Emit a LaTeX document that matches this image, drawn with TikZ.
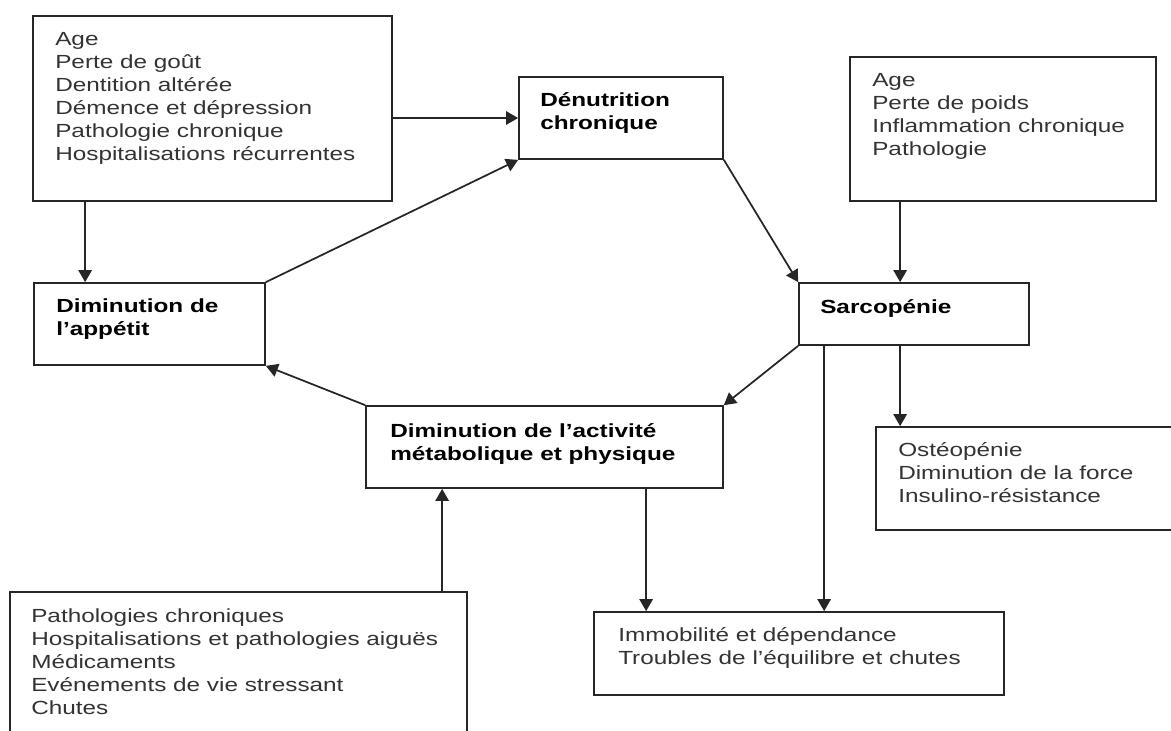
\documentclass[tikz,border=0pt]{standalone}
\usepackage{fontspec}
\setmainfont{Liberation Sans}[FakeStretch=1.28]
\usetikzlibrary{arrows.meta,fit}
\tikzset{
  box/.style={draw=black!85, line width=1.3pt, inner sep=0pt},
  listtxt/.style={anchor=north west, inner sep=0pt, align=left, text=black!80,
    font=\fontsize{14.25pt}{17.25pt}\selectfont},
  headtxt/.style={listtxt, text=black, font=\fontsize{14.25pt}{17.25pt}\selectfont\bfseries},
  arr/.style={draw=black!85, line width=1.3pt, -{Triangle[length=9pt,width=10pt]}}
}
\begin{document}
\begin{tikzpicture}[x=0.75pt,y=-0.75pt]
    \fill[white] (0,0) rectangle (1171,731);
    \useasboundingbox (0,0) rectangle (1171,731);
    % boxes
    \node[box, fit={(33,16) (392,201)}] (causes) {};
    \node[box, fit={(519,77) (723,159)}] (denut) {};
    \node[box, fit={(850,57) (1156,201)}] (sfact) {};
    \node[box, fit={(34,283) (265,365)}] (appetit) {};
    \node[box, fit={(799,283) (1029,345)}] (sarco) {};
    \node[box, fit={(366,406) (723,488)}] (activite) {};
    \node[box, fit={(876,427) (1176,530)}] (osteo) {};
    \node[box, fit={(10,592) (467,745)}] (afact) {};
    \node[box, fit={(594,612) (1004,695)}] (immob) {};
    % texts
    \node[listtxt] (causestxt) at (55,29) {\strut Age\\Perte de goût\\Dentition altérée\\Démence et dépression\\Pathologie chronique\\Hospitalisations récurrentes};
    \node[headtxt] (denuttxt) at (540,90) {\strut Dénutrition\\chronique};
    \node[listtxt] (sfacttxt) at (872,70) {\strut Age\\Perte de poids\\Inflammation chronique\\Pathologie};
    \node[headtxt] (appetittxt) at (56,296) {\strut Diminution de\\l’appétit};
    \node[headtxt] (sarcotxt) at (820,297) {\strut Sarcopénie};
    \node[headtxt] (activitetxt) at (390,421) {\strut Diminution de l’activité\\métabolique et physique};
    \node[listtxt] (osteotxt) at (898,440) {\strut Ostéopénie\\Diminution de la force\\Insulino-résistance};
    \node[listtxt] (afacttxt) at (31,606) {\strut Pathologies chroniques\\Hospitalisations et pathologies aiguës\\Médicaments\\Evénements de vie stressant\\Chutes};
    \node[listtxt] (immobtxt) at (618,625) {\strut Immobilité et dépendance\\Troubles de l’équilibre et chutes};
    % connectors
    \draw[arr] ([shift={(53,0)}]causes.south west) -- ([shift={(52,0)}]appetit.north west);
    \draw[arr] (causes.east |- denut.west) -- (denut.west);
    \draw[arr] (appetit.north east) -- (denut.south west);
    \draw[arr] (denut.south east) -- (sarco.north west);
    \draw[arr] ([shift={(51,0)}]sfact.south west) -- ([shift={(102,0)}]sarco.north west);
    \draw[arr] ([shift={(102,0)}]sarco.south west) -- ([shift={(25,0)}]osteo.north west);
    \draw[arr] ([shift={(26,0)}]sarco.south west) -- ([shift={(231,0)}]immob.north west);
    \draw[arr] (sarco.south west) -- (activite.north east);
    \draw[arr] (activite.north west) -- (appetit.south east);
    \draw[arr] ([shift={(433,0)}]afact.north west) -- ([shift={(77,0)}]activite.south west);
    \draw[arr] ([shift={(281,0)}]activite.south west) -- ([shift={(53,0)}]immob.north west);
\end{tikzpicture}
\end{document}
